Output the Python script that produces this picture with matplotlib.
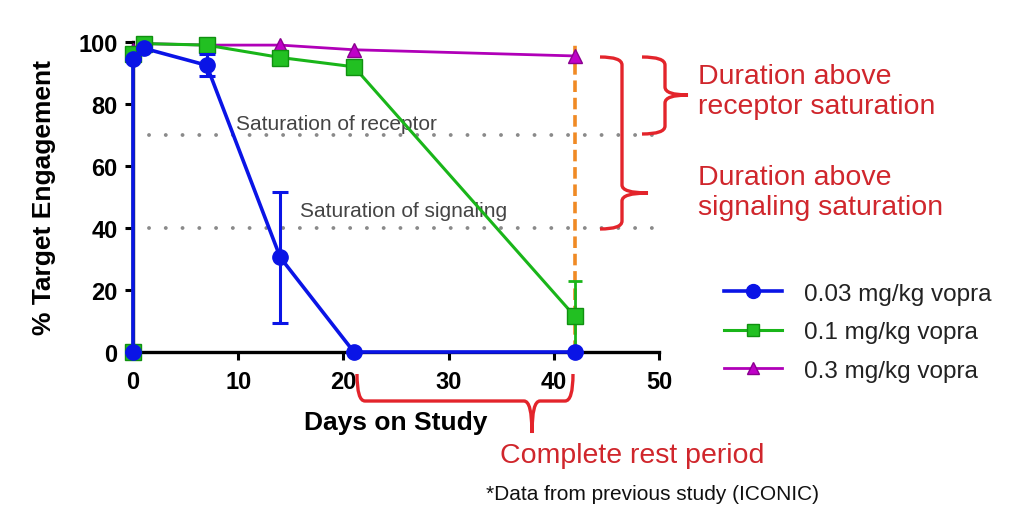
import matplotlib.pyplot as plt
from matplotlib.path import Path
from matplotlib.patches import PathPatch
from matplotlib.lines import Line2D

plt.rcParams['font.family'] = ['Liberation Sans', 'DejaVu Sans']

# data
days_low = [0, 0, 1, 7, 14, 21, 42]
te_low = [0, 94.5, 98, 92.5, 30.5, 0, 0]
err_low = [0, 0, 0, 3.5, 21, 0, 0]

days_mid = [0, 0, 1, 7, 14, 21, 42]
te_mid = [0, 96, 99.5, 99, 95, 92, 11.5]
err_mid = [0, 0, 0, 1.5, 0, 0, 11.5]

days_high = [0, 1, 7, 14, 21, 42]
te_high = [97.5, 99.5, 99, 99, 97.5, 95.5]

labels = ["0.03 mg/kg vopra", "0.1 mg/kg vopra", "0.3 mg/kg vopra"]
sat_receptor = 70
sat_signaling = 40
rest_day = 42

W, H = 1013, 510
fig = plt.figure(figsize=(W / 100, H / 100), dpi=100)
ax = fig.add_axes([133 / W, 1 - 353 / H, (659 - 133) / W, (353 - 43) / H])

RED = "#e3242b"
TXT_RED = "#d0262c"
BLUE, GREEN, MAG = "#0a14e6", "#19b519", "#b000b8"

# threshold lines
for yv in (sat_receptor, sat_signaling):
    ax.plot([1.5, 49.7], [yv, yv], color="#8a8a8a", lw=2.8,
            ls=(0, (0.01, 4.3)), dash_capstyle="round", zorder=1, clip_on=False)
ax.text(9.8, sat_receptor + 2.0, "Saturation of receptor", fontsize=15, color="#444444")
ax.text(15.9, sat_signaling + 3.8, "Saturation of signaling", fontsize=15, color="#444444")

# rest marker
ax.plot([rest_day, rest_day], [0, 100.5], color="#f08a24", lw=2.6,
        ls=(0, (3.2, 1.6)), zorder=2, clip_on=False)

ax.plot(days_high, te_high, color=MAG, lw=2, marker="^", ms=10,
        mfc="#c000c8", mec="#8a008f", zorder=3, clip_on=False)
h2 = ax.errorbar(days_mid, te_mid, yerr=err_mid, color=GREEN, lw=2.2, marker="s",
                 ms=11, mfc="#22c022", mec="#109010", capsize=5, capthick=2, elinewidth=2,
                 zorder=4, clip_on=False)
h1 = ax.errorbar(days_low, te_low, yerr=err_low, color=BLUE, lw=2.6, marker="o",
                 ms=11, mfc=BLUE, mec=BLUE, capsize=6, capthick=2.2, elinewidth=2.2,
                 zorder=5, clip_on=False)
for c in h1[1] + h1[2] + h2[1] + h2[2]:
    c.set_clip_on(False)

ax.set_xlim(0, 50)
ax.set_ylim(0, 100)
ax.set_xticks(range(0, 51, 10))
ax.set_yticks(range(0, 101, 20))
for s in ("top", "right"):
    ax.spines[s].set_visible(False)
for s in ("left", "bottom"):
    ax.spines[s].set_linewidth(2.4)
ax.tick_params(width=2.2, length=6, direction="out", labelsize=17, pad=5)
ax.tick_params(axis="x", pad=7)
for t in ax.get_xticklabels() + ax.get_yticklabels():
    t.set_fontweight("bold")
ax.set_xlabel("Days on Study", fontsize=19, fontweight="bold", labelpad=12)
ax.set_ylabel("% Target Engagement", fontsize=19, fontweight="bold", labelpad=16)

handles = [
    Line2D([], [], color=BLUE, lw=2.6, marker="o", ms=10, mfc=BLUE, mec=BLUE),
    Line2D([], [], color=GREEN, lw=2.2, marker="s", ms=9, mfc="#22c022", mec="#109010"),
    Line2D([], [], color=MAG, lw=2, marker="^", ms=9, mfc="#c000c8", mec="#8a008f"),
]
fig.legend(handles, labels, loc="upper left", bbox_to_anchor=(702 / W, 1 - 262 / H),
           frameon=False, fontsize=17.5, handlelength=2.4, labelspacing=0.68,
           handletextpad=0.9, labelcolor="#222222")


# braces drawn in figure pixel coordinates
def px(x, y):
    return (x / W, 1 - y / H)


def vbrace(left, stem, tip, top, bottom, tipy, r=8):
    verts = [px(left, top), px(stem, top), px(stem, top + r),
             px(stem, tipy - r), px(stem, tipy), px(tip, tipy),
             px(stem, tipy), px(stem, tipy + r),
             px(stem, bottom - r), px(stem, bottom), px(left, bottom)]
    codes = [Path.MOVETO, Path.CURVE3, Path.CURVE3,
             Path.LINETO, Path.CURVE3, Path.CURVE3,
             Path.CURVE3, Path.CURVE3,
             Path.LINETO, Path.CURVE3, Path.CURVE3]
    fig.add_artist(PathPatch(Path(verts, codes), fc="none", ec=RED, lw=2.4,
                             transform=fig.transFigure))


def hbrace(left, right, top, stem, tipx, tipy, r=8):
    verts = [px(left, top), px(left, stem), px(left + r, stem),
             px(tipx - r, stem), px(tipx, stem), px(tipx, tipy),
             px(tipx, stem), px(tipx + r, stem),
             px(right - r, stem), px(right, stem), px(right, top)]
    codes = [Path.MOVETO, Path.CURVE3, Path.CURVE3,
             Path.LINETO, Path.CURVE3, Path.CURVE3,
             Path.CURVE3, Path.CURVE3,
             Path.LINETO, Path.CURVE3, Path.CURVE3]
    fig.add_artist(PathPatch(Path(verts, codes), fc="none", ec=RED, lw=2.4,
                             transform=fig.transFigure))


vbrace(600, 622, 648, 58, 230, 194)
vbrace(642, 665, 688, 58, 135, 96)
hbrace(357, 573, 375, 402, 532, 434)

fig.text(698 / W, 1 - 92 / H, "Duration above\nreceptor saturation", fontsize=20.5,
         color=TXT_RED, va="center", ha="left", linespacing=1.2)
fig.text(698 / W, 1 - 193 / H, "Duration above\nsignaling saturation", fontsize=20.5,
         color=TXT_RED, va="center", ha="left", linespacing=1.2)
fig.text(632 / W, 1 - 456 / H, "Complete rest period", fontsize=20.5,
         color=TXT_RED, va="center", ha="center")
fig.text(652 / W, 1 - 495 / H, "*Data from previous study (ICONIC)", fontsize=15,
         color="#111111", va="center", ha="center")

fig.savefig("out.png", dpi=100, facecolor="white")
